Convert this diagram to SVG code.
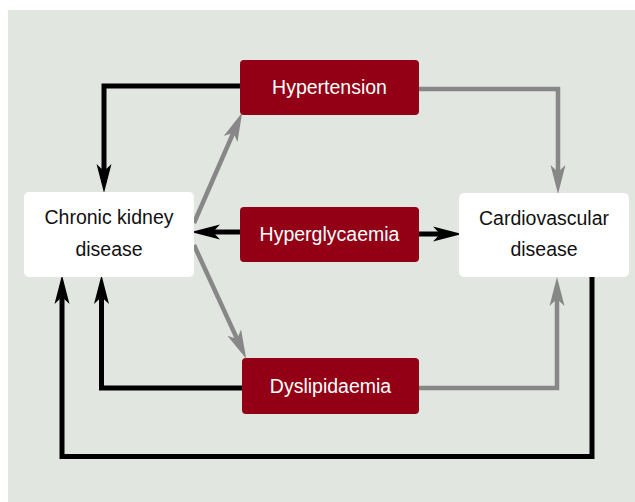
<svg xmlns="http://www.w3.org/2000/svg" width="635" height="502" viewBox="0 0 635 502">
<style>
.red{fill:#930015}
.white{fill:#ffffff}
.lt{font-family:"Liberation Sans",Arial,sans-serif;font-size:19.5px;fill:#ffffff;text-anchor:middle}
.dt{font-family:"Liberation Sans",Arial,sans-serif;font-size:19.5px;fill:#111111;text-anchor:middle}
.blk{fill:none;stroke:#000000;stroke-width:5;stroke-linejoin:miter}
.gry{fill:none;stroke:#878787;stroke-width:4.5;stroke-linejoin:miter}
</style>
<defs>
<marker id="ab" markerUnits="userSpaceOnUse" markerWidth="30" markerHeight="20" viewBox="0 -8 26 16" refX="6" refY="0" orient="auto">
<path d="M0,-6.5 L25,0 L0,6.5 L6,0 Z" fill="#000000"/>
</marker>
<marker id="ag" markerUnits="userSpaceOnUse" markerWidth="30" markerHeight="20" viewBox="0 -8 26 16" refX="6" refY="0" orient="auto">
<path d="M0,-6.5 L25,0 L0,6.5 L6,0 Z" fill="#878787"/>
</marker>
</defs>
<rect x="8" y="10" width="627" height="492" fill="#e1e6e0"/>
<g id="connectors">
<path class="blk" d="M240,86 H104 V171" marker-end="url(#ab)"/>
<path class="gry" d="M419,89 H558 V172" marker-end="url(#ag)"/>
<path class="gry" d="M194,223 L233.4,132.7" marker-end="url(#ag)"/>
<path class="gry" d="M194,245 L237.1,338.9" marker-end="url(#ag)"/>
<path class="blk" d="M240,232 H213" marker-end="url(#ab)"/>
<path class="blk" d="M419,234 H440" marker-end="url(#ab)"/>
<path class="blk" d="M242,388 H101.5 V297" marker-end="url(#ab)"/>
<path class="gry" d="M419,388 H557 V299" marker-end="url(#ag)"/>
<path class="blk" d="M592,277 V456.5 H62 V297" marker-end="url(#ab)"/>
</g>
<g id="hypertension">
<rect class="red" x="240" y="60" width="179" height="55" rx="4"/>
<text class="lt" x="329.5" y="93.5">Hypertension</text>
</g>
<g id="hyperglycaemia">
<rect class="red" x="240" y="207" width="179" height="55" rx="4"/>
<text class="lt" x="329.5" y="240.5">Hyperglycaemia</text>
</g>
<g id="dyslipidaemia">
<rect class="red" x="242" y="358" width="177" height="56" rx="4"/>
<text class="lt" x="330.5" y="392.5">Dyslipidaemia</text>
</g>
<g id="ckd">
<rect class="white" x="24" y="192" width="170" height="85" rx="5"/>
<text class="dt" x="109" y="224">Chronic kidney</text>
<text class="dt" x="109" y="256">disease</text>
</g>
<g id="cvd">
<rect class="white" x="459" y="193" width="170" height="84" rx="5"/>
<text class="dt" x="544" y="225">Cardiovascular</text>
<text class="dt" x="544" y="256">disease</text>
</g>
</svg>
